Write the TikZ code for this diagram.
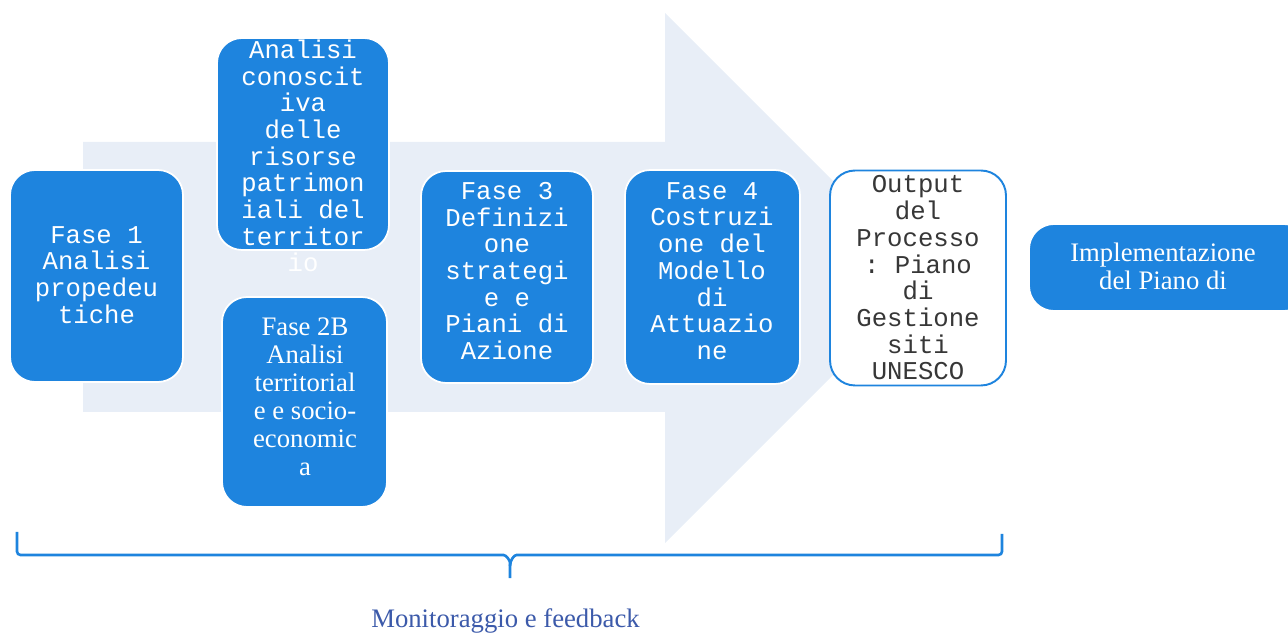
\documentclass[tikz,border=0pt]{standalone}
\usepackage{fontspec}
\setmainfont{Liberation Serif}
\setmonofont{Liberation Mono}
\usetikzlibrary{shapes.geometric,arrows,positioning}
\definecolor{boxblue}{RGB}{30,132,222}
\definecolor{bgblue}{RGB}{232,238,247}
\definecolor{capblue}{RGB}{60,90,170}
\definecolor{outgray}{RGB}{55,55,55}
\tikzset{
fase/.style={rectangle, rounded corners=0.5cm, fill=boxblue, draw=white, line width=1pt, inner sep=0pt},
outbox/.style={rectangle, rounded corners=0.5cm, fill=white, draw=boxblue, line width=1.1pt, inner sep=0pt},
monotxt/.style={align=center, inner sep=0pt, text=white, font=\ttfamily\fontsize{14.6}{15.2}\selectfont},
seriftxt/.style={align=center, inner sep=0pt, text=white, font=\fontsize{15.2}{16}\selectfont},
brace/.style={draw=boxblue, line width=1.5pt, rounded corners=2pt}
}
\begin{document}
\begin{tikzpicture}[x=0.02cm,y=-0.02cm]
\useasboundingbox (0,0) rectangle (1288,634);

\fill[bgblue] (83,142) -- (665,142) -- (665,13) -- (930,278) -- (665,543) -- (665,412) -- (83,412) -- cycle;

\node (b1) at (96.5,276) [fase, minimum width=3.46cm, minimum height=4.24cm] {};
\node (b2a) at (303,144) [fase, minimum width=3.44cm, minimum height=4.24cm] {};
\node (b2b) at (304.5,402) [fase, minimum width=3.30cm, minimum height=4.20cm] {};
\node (b3) at (507,277) [fase, minimum width=3.44cm, minimum height=4.24cm] {};
\node (b4) at (712.5,277) [fase, minimum width=3.50cm, minimum height=4.28cm] {};
\node (bo) at (918,278) [outbox, minimum width=3.52cm, minimum height=4.30cm] {};
\node (bi) at (1169,267.5) [fase, minimum width=5.60cm, minimum height=1.74cm] {};

\node (t1) at (b1) [monotxt, yshift=0.02cm] {Fase 1\\Analisi\\propedeu\\tiche};
\node (t2a) at (303,156) [monotxt] {Analisi\\conoscit\\iva\\delle\\risorse\\patrimon\\iali del\\territor\\io};
\node (t2b) at (305,397) [seriftxt] {Fase 2B\\Analisi\\territorial\\e e socio-\\economic\\a};
\node (t3) at (507,271) [monotxt] {Fase 3\\Definizi\\one\\strategi\\e e\\Piani di\\Azione};
\node (t4) at (712,271) [monotxt] {Fase 4\\Costruzi\\one del\\Modello\\di\\Attuazio\\ne};
\node (to) at (bo) [monotxt, text=outgray] {Output\\del\\Processo\\: Piano\\di\\Gestione\\siti\\UNESCO};
\node (ti) at (1163,266) [seriftxt] {Implementazione\\del Piano di};

\coordinate (bl) at (17,532);
\coordinate (br) at (1002,534);
\coordinate (bm) at (510,578);
\draw[brace] (bl) |- (500,555) to[out=0,in=90] (bm |- 0,566) -- (bm);
\draw[brace] (br) |- (520,555) to[out=180,in=90] (bm |- 0,566);

\node (mf) at (505.5,621) [text=capblue, font=\fontsize{15.2}{18}\selectfont] {Monitoraggio e feedback};
\end{tikzpicture}
\end{document}
